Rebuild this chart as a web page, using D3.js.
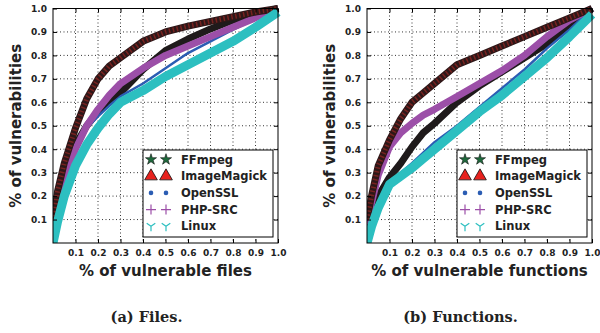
<!DOCTYPE html>
<html>
<head>
<meta charset="utf-8">
<script src="https://cdn.jsdelivr.net/npm/d3@7"></script>
<style>
  body { margin: 0; background: #fff; }
  svg { display: block; }
</style>
</head>
<body>
<svg id="chart" width="600" height="333"></svg>
<script>
// shared x grid (fraction of files / functions)
const xGrid = [0, 0.02, 0.05, 0.1, 0.15, 0.2, 0.25, 0.3, 0.4, 0.5, 0.6, 0.7, 0.8, 0.9, 1.0];
const seriesNames = ["FFmpeg", "ImageMagick", "OpenSSL", "PHP-SRC", "Linux"];
const tickValues = [0.1, 0.2, 0.3, 0.4, 0.5, 0.6, 0.7, 0.8, 0.9, 1.0];

// (a) Files
const filesFFmpeg      = [0.10, 0.20, 0.30, 0.42, 0.50, 0.56, 0.60, 0.64, 0.74, 0.82, 0.87, 0.913, 0.95, 0.975, 1.0];
const filesImageMagick = [0.08, 0.22, 0.34, 0.49, 0.615, 0.70, 0.755, 0.79, 0.86, 0.90, 0.925, 0.945, 0.965, 0.985, 1.0];
const filesOpenSSL     = [0.08, 0.19, 0.30, 0.42, 0.49, 0.54, 0.585, 0.625, 0.68, 0.745, 0.81, 0.86, 0.91, 0.955, 1.0];
const filesPHP         = [0.07, 0.17, 0.28, 0.40, 0.50, 0.57, 0.63, 0.68, 0.745, 0.80, 0.84, 0.88, 0.92, 0.96, 1.0];
const filesLinux       = [0.00, 0.09, 0.20, 0.33, 0.42, 0.49, 0.55, 0.60, 0.65, 0.71, 0.76, 0.81, 0.86, 0.92, 0.985];

// (b) Functions
const funcsFFmpeg      = [0.05, 0.13, 0.20, 0.28, 0.34, 0.41, 0.47, 0.51, 0.60, 0.67, 0.73, 0.79, 0.85, 0.92, 1.0];
const funcsImageMagick = [0.10, 0.20, 0.33, 0.44, 0.53, 0.60, 0.64, 0.68, 0.76, 0.80, 0.84, 0.88, 0.92, 0.96, 1.0];
const funcsOpenSSL     = [0.05, 0.10, 0.17, 0.26, 0.30, 0.34, 0.385, 0.43, 0.50, 0.58, 0.66, 0.74, 0.83, 0.91, 1.0];
const funcsPHP         = [0.08, 0.17, 0.29, 0.41, 0.47, 0.51, 0.545, 0.57, 0.625, 0.68, 0.735, 0.80, 0.88, 0.95, 1.0];
const funcsLinux       = [0.00, 0.07, 0.15, 0.25, 0.285, 0.32, 0.36, 0.40, 0.48, 0.56, 0.63, 0.71, 0.79, 0.88, 0.975];

const panels = [
  { left: 53, right: 278, xTitle: "% of vulnerable files", caption: "(a) Files.",
    series: [filesFFmpeg, filesImageMagick, filesOpenSSL, filesPHP, filesLinux] },
  { left: 367, right: 592, xTitle: "% of vulnerable functions", caption: "(b) Functions.",
    series: [funcsFFmpeg, funcsImageMagick, funcsOpenSSL, funcsPHP, funcsLinux] }
];

const plotTop = 8.5, plotBottom = 243;
const svg = d3.select("#chart");
const font = "'DejaVu Sans', sans-serif";

// drawing order and look of each band
const drawOrder = [0, 2, 3, 1, 4];
const looks = [
  { stroke: "#1f1a1b", width: 7 },
  { stroke: "#2e1718", width: 7, over: "#d0302a", dash: "1.5,2.5" },
  { stroke: "#2b5db3", width: 2.5 },
  { stroke: "#9c4fa8", width: 7 },
  { stroke: "#2cbfc0", width: 9 }
];

const marker = {
  FFmpeg: g => g.append("path").attr("d", d3.symbol(d3.symbolStar, 38)())
    .attr("fill", "#1e6a3c").attr("stroke", "#111").attr("stroke-width", 0.6),
  ImageMagick: g => g.append("path").attr("d", d3.symbol(d3.symbolTriangle, 70)())
    .attr("fill", "#e8221e").attr("stroke", "#111").attr("stroke-width", 0.8),
  OpenSSL: g => g.append("circle").attr("r", 2.3).attr("fill", "#2b5db3"),
  "PHP-SRC": g => g.append("path").attr("d", "M-5,0H5M0,-5V5")
    .attr("stroke", "#9c4fa8").attr("stroke-width", 1.2),
  Linux: g => g.append("path").attr("d", "M0,0V5M0,0L-4.3,-3M0,0L4.3,-3")
    .attr("stroke", "#2cbfc0").attr("stroke-width", 1.2)
};

panels.forEach(p => {
  const x = d3.scaleLinear().domain([0, 1]).range([p.left, p.right]);
  const y = d3.scaleLinear().domain([0, 1]).range([plotBottom, plotTop]);
  const g = svg.append("g");

  // dotted grid
  g.selectAll(".gx").data(tickValues.slice(0, -1)).enter().append("line")
    .attr("x1", d => x(d)).attr("x2", d => x(d)).attr("y1", plotTop).attr("y2", plotBottom)
    .attr("stroke", "#000").attr("stroke-width", 0.8).attr("stroke-dasharray", "1,2.5");
  g.selectAll(".gy").data(tickValues.slice(0, -1)).enter().append("line")
    .attr("y1", d => y(d)).attr("y2", d => y(d)).attr("x1", p.left).attr("x2", p.right)
    .attr("stroke", "#000").attr("stroke-width", 0.8).attr("stroke-dasharray", "1,2.5");

  const clipId = "clip" + p.left;
  svg.append("clipPath").attr("id", clipId).append("rect")
    .attr("x", p.left).attr("y", plotTop - 6).attr("width", p.right - p.left + 6).attr("height", plotBottom - plotTop + 6);

  const line = d3.line().x((d, i) => x(xGrid[i])).y(d => y(d));
  const lines = g.append("g").attr("clip-path", `url(#${clipId})`);
  drawOrder.forEach(k => {
    const lk = looks[k];
    lines.append("path").attr("d", line(p.series[k])).attr("fill", "none")
      .attr("stroke", lk.stroke).attr("stroke-width", lk.width).attr("stroke-linejoin", "round");
    if (lk.over) {
      lines.append("path").attr("d", line(p.series[k])).attr("fill", "none")
        .attr("stroke", lk.over).attr("stroke-width", lk.width - 2).attr("stroke-dasharray", lk.dash)
        .attr("opacity", 0.45);
    }
  });

  // axes with inward ticks
  const xAxis = d3.axisBottom(x).tickValues(tickValues).tickFormat(d3.format(".1f")).tickSizeInner(-4).tickSizeOuter(0).tickPadding(7);
  const yAxis = d3.axisLeft(y).tickValues(tickValues).tickFormat(d3.format(".1f")).tickSizeInner(-4).tickSizeOuter(0).tickPadding(6);
  const xa = g.append("g").attr("transform", `translate(0,${plotBottom})`).call(xAxis);
  const ya = g.append("g").attr("transform", `translate(${p.left},0)`).call(yAxis);
  g.append("g").attr("transform", `translate(0,${plotTop})`)
    .call(d3.axisTop(x).tickValues(tickValues).tickFormat("").tickSizeInner(-4).tickSizeOuter(0));
  g.append("g").attr("transform", `translate(${p.right},0)`)
    .call(d3.axisRight(y).tickValues(tickValues).tickFormat("").tickSizeInner(-4).tickSizeOuter(0));
  g.selectAll(".domain").remove();
  [xa, ya].forEach(a => a.selectAll("text")
    .attr("font-family", font).attr("font-weight", "bold").attr("font-size", 9).attr("fill", "#222"));

  g.append("rect").attr("x", p.left).attr("y", plotTop).attr("width", p.right - p.left).attr("height", plotBottom - plotTop)
    .attr("fill", "none").attr("stroke", "#000").attr("stroke-width", 1);

  // axis titles
  g.append("text").attr("x", (p.left + p.right) / 2).attr("y", 276).attr("text-anchor", "middle")
    .attr("font-family", font).attr("font-weight", "bold").attr("font-size", 15).attr("fill", "#222")
    .text(p.xTitle);
  g.append("text").attr("transform", `translate(${p.left - 32},${(plotTop + plotBottom) / 2}) rotate(-90)`)
    .attr("text-anchor", "middle").attr("font-family", font).attr("font-weight", "bold")
    .attr("font-size", 15).attr("fill", "#222").text("% of vulnerabilities");

  // caption
  g.append("text").attr("x", (p.left + p.right) / 2 - 19).attr("y", 322).attr("text-anchor", "middle")
    .attr("font-family", "'DejaVu Serif', serif").attr("font-weight", "bold").attr("font-size", 14.5)
    .attr("fill", "#222").text(p.caption);

  // legend
  const lx = p.right - 135, ly = 150;
  const leg = g.append("g").attr("transform", `translate(${lx},${ly})`);
  leg.append("rect").attr("width", 130).attr("height", 87).attr("fill", "#fff")
    .attr("stroke", "#000").attr("stroke-width", 1);
  seriesNames.forEach((name, i) => {
    const yy = 9.5 + i * 16.7;
    [8, 23].forEach(mx => marker[name](leg.append("g").attr("transform", `translate(${mx},${yy})`)));
    leg.append("text").attr("x", 38).attr("y", yy + 4).attr("font-family", font)
      .attr("font-weight", "bold").attr("font-size", 11.5).attr("fill", "#222").text(name);
  });
});
</script>
</body>
</html>
